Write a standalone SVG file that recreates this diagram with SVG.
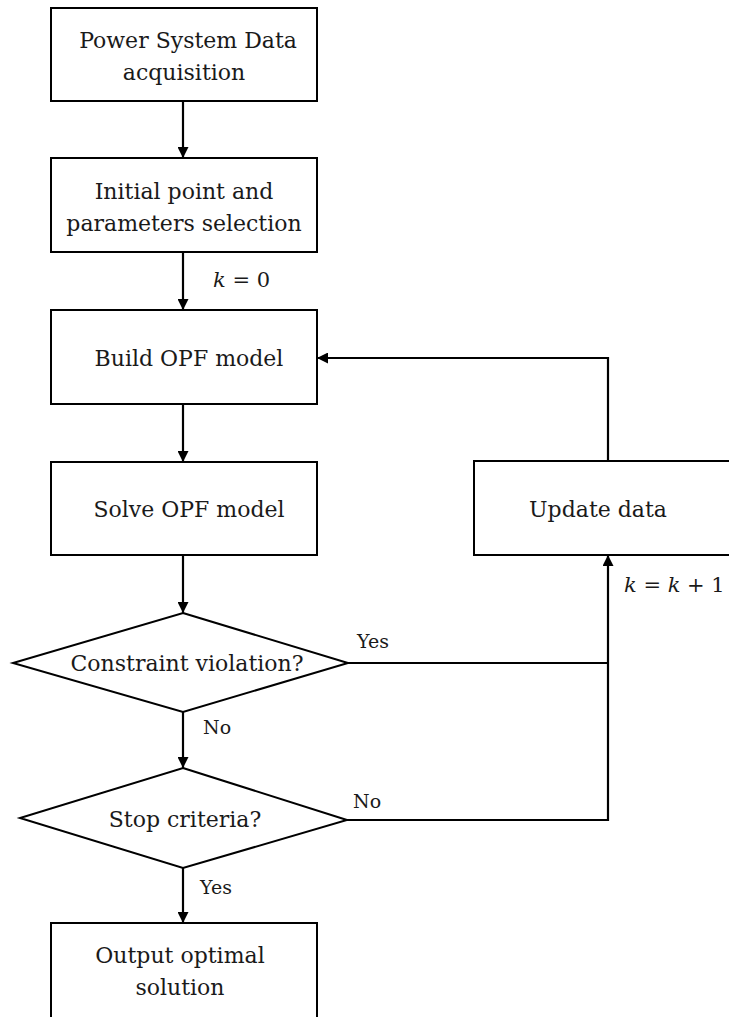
<svg xmlns="http://www.w3.org/2000/svg" width="729" height="1017" viewBox="0 0 729 1017">
  <style>
    .box { fill: #fff; stroke: #000; stroke-width: 2; }
    .lbl { font-family: "DejaVu Serif", "Liberation Serif", serif; font-size: 22px; fill: #1a1a1a; text-anchor: middle; }
    .tag { font-family: "DejaVu Serif", "Liberation Serif", serif; font-size: 19px; fill: #1a1a1a; }
    .math { font-family: "DejaVu Serif", "Liberation Serif", serif; font-size: 21px; fill: #1a1a1a; }
    .wire { fill: none; stroke: #000; stroke-width: 2.2; }
  </style>
  <defs>
    <marker id="arrow" viewBox="0 0 10 10" refX="10" refY="5" markerWidth="11" markerHeight="11" markerUnits="userSpaceOnUse" orient="auto">
      <path d="M0,0 L10,5 L0,10 z" fill="#000"/>
    </marker>
  </defs>
  <rect width="729" height="1017" fill="#fff"/>

  <g id="connectors">
    <line class="wire" x1="183" y1="101" x2="183" y2="158" marker-end="url(#arrow)"/>
    <line class="wire" x1="183" y1="252" x2="183" y2="310" marker-end="url(#arrow)"/>
    <line class="wire" x1="183" y1="404" x2="183" y2="462" marker-end="url(#arrow)"/>
    <line class="wire" x1="183" y1="555" x2="183" y2="613" marker-end="url(#arrow)"/>
    <line class="wire" x1="183" y1="712" x2="183" y2="768" marker-end="url(#arrow)"/>
    <line class="wire" x1="183" y1="868" x2="183" y2="923" marker-end="url(#arrow)"/>
    <polyline class="wire" points="348,663 608,663"/>
    <polyline class="wire" points="347,820 608,820 608,555" marker-end="url(#arrow)"/>
    <polyline class="wire" points="608,461 608,358 317,358" marker-end="url(#arrow)"/>
    <text class="math" x="213" y="287"><tspan font-style="italic">k</tspan> = 0</text>
    <text class="math" x="624" y="592"><tspan font-style="italic">k</tspan> = <tspan font-style="italic">k</tspan> + 1</text>
    <text class="tag" x="357" y="648">Yes</text>
    <text class="tag" x="203" y="734">No</text>
    <text class="tag" x="353" y="808">No</text>
    <text class="tag" x="200" y="894">Yes</text>
  </g>

  <g id="data-acquisition">
    <rect class="box" x="51" y="8" width="266" height="93"/>
    <text class="lbl" x="188" y="48">Power System Data</text>
    <text class="lbl" x="184" y="80">acquisition</text>
  </g>
  <g id="initial-point">
    <rect class="box" x="51" y="158" width="266" height="94"/>
    <text class="lbl" x="184" y="199">Initial point and</text>
    <text class="lbl" x="184" y="231">parameters selection</text>
  </g>
  <g id="build-opf">
    <rect class="box" x="51" y="310" width="266" height="94"/>
    <text class="lbl" x="189" y="366">Build OPF model</text>
  </g>
  <g id="solve-opf">
    <rect class="box" x="51" y="462" width="266" height="93"/>
    <text class="lbl" x="189" y="517">Solve OPF model</text>
  </g>
  <g id="update-data">
    <rect class="box" x="474" y="461" width="258" height="94"/>
    <text class="lbl" x="598" y="517">Update data</text>
  </g>
  <g id="constraint-check">
    <polygon class="box" points="183,613 348,663 183,712 13,663"/>
    <text class="lbl" x="187" y="671">Constraint violation?</text>
  </g>
  <g id="stop-check">
    <polygon class="box" points="183,768 347,820 183,868 20,818"/>
    <text class="lbl" x="185" y="827">Stop criteria?</text>
  </g>
  <g id="output-solution">
    <rect class="box" x="51" y="923" width="266" height="100"/>
    <text class="lbl" x="180" y="963">Output optimal</text>
    <text class="lbl" x="180" y="995">solution</text>
  </g>
</svg>
